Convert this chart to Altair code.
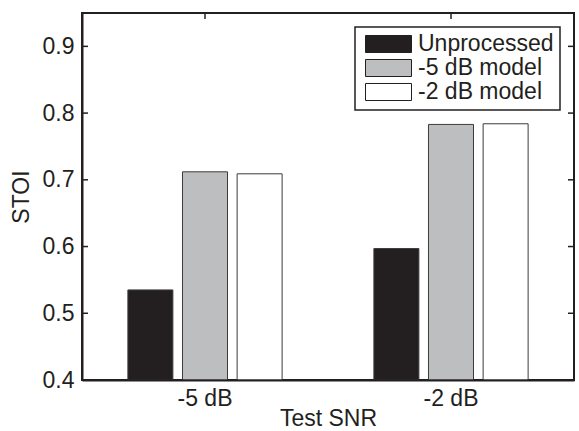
import altair as alt
import pandas as pd

snr = ["-5 dB", "-2 dB"]
models = ["Unprocessed", "-5 dB model", "-2 dB model"]
unprocessed = [0.535, 0.597]
model_m5 = [0.712, 0.783]
model_m2 = [0.709, 0.784]
y_ticks = [0.4, 0.5, 0.6, 0.7, 0.8, 0.9]
colors = ["#231f20", "#bcbec0", "#ffffff"]

rows = []
for i, s in enumerate(snr):
    for m, vals in zip(models, [unprocessed, model_m5, model_m2]):
        rows.append({"snr": s, "model": m, "stoi": vals[i]})
df = pd.DataFrame(rows)
tick_df = pd.DataFrame({"v": y_ticks})
cat_df = pd.DataFrame({"snr": snr})

FONT = "Liberation Sans"
INK = "#231f20"
FS = 23
W, H = 492, 367

xscale = alt.Scale(domain=snr, paddingInner=0, paddingOuter=0)
yscale = alt.Scale(domain=[0.4, 0.95], nice=False, zero=False)

xaxis = alt.Axis(labelAngle=0, labelPadding=7, titlePadding=-3, ticks=False, tickSize=0,
                 domainColor=INK, domainWidth=2, grid=False, zindex=1,
                 labelFont=FONT, labelFontSize=FS, labelColor=INK,
                 titleFont=FONT, titleFontSize=FS, titleFontWeight="normal", titleColor=INK)
yaxis = alt.Axis(values=y_ticks, format=".1f", labelPadding=8, titlePadding=9,
                 ticks=False, tickSize=0, domainColor=INK, domainWidth=2, grid=False, zindex=1,
                 labelFont=FONT, labelFontSize=FS, labelColor=INK,
                 titleFont=FONT, titleFontSize=FS, titleFontWeight="normal", titleColor=INK)

bars = alt.Chart(df).mark_bar(stroke="#3c3c3c", strokeWidth=1).encode(
    x=alt.X("snr:N", scale=xscale, sort=snr, title="Test SNR", axis=xaxis),
    xOffset=alt.XOffset("model:N", sort=models,
                        scale=alt.Scale(domain=models, paddingInner=0.176, paddingOuter=0.84)),
    y=alt.Y("stoi:Q", scale=yscale, title="STOI", axis=yaxis),
    y2=alt.datum(0.4),
    color=alt.Color("model:N", sort=models,
                    scale=alt.Scale(domain=models, range=colors),
                    legend=alt.Legend(orient="none", legendX=273, legendY=14, title=None,
                                      symbolType="M-1,-0.37H1V0.37H-1Z", symbolSize=2116,
                                      symbolStrokeColor=INK, symbolStrokeWidth=1,
                                      labelFontSize=FS, labelFont=FONT, labelColor=INK,
                                      labelOffset=6, padding=6, symbolOffset=4, rowPadding=1,
                                      clipHeight=22,
                                      strokeColor=INK, fillColor="white", labelLimit=400)),
)

left_ticks = alt.Chart(tick_df).mark_rule(color=INK, strokeWidth=1.5).encode(
    y=alt.Y("v:Q", scale=yscale, title="STOI", axis=yaxis), x=alt.value(0), x2=alt.value(6))
right_ticks = alt.Chart(tick_df).mark_rule(color=INK, strokeWidth=1.5).encode(
    y=alt.Y("v:Q", scale=yscale, title="STOI", axis=yaxis), x=alt.value(W - 6), x2=alt.value(W))
top_ticks = alt.Chart(cat_df).mark_rule(color=INK, strokeWidth=1.5).encode(
    x=alt.X("snr:N", sort=snr, scale=xscale, title="Test SNR", axis=xaxis),
    y=alt.value(0), y2=alt.value(6))

chart = alt.layer(bars, left_ticks, right_ticks, top_ticks).properties(
    width=W, height=H,
    padding={"left": 82, "top": 13, "right": 5, "bottom": 51},
    autosize=alt.AutoSizeParams(type="none"),
).configure_view(
    stroke=INK, strokeWidth=2
).configure_legend(
    strokeWidth=1.5
)

chart.save("out.html", embed_options={"renderer": "svg", "actions": False})
